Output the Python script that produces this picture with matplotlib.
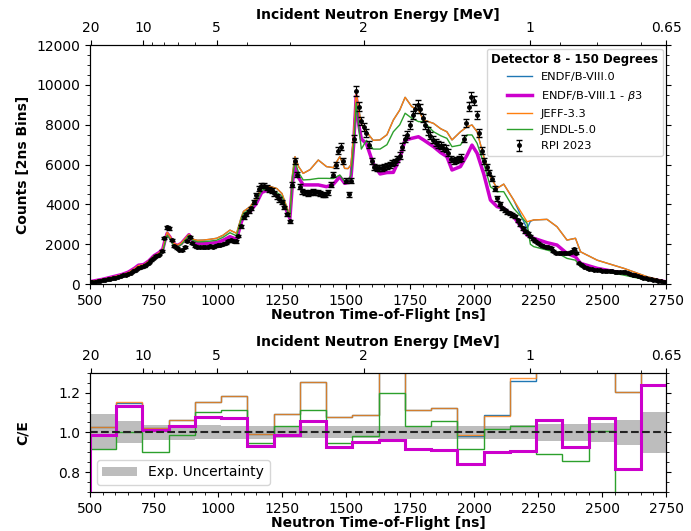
"""
Detector 8 (150 degrees) time-of-flight comparison with C/E ratios.
"""

import matplotlib

matplotlib.use("Agg")

import matplotlib.pyplot as plt
import numpy as np
from matplotlib.patches import Patch
from matplotlib.ticker import AutoMinorLocator

# =============================================================================
# DATA
# =============================================================================

# Model grid [ns]
model_tof = [
    500, 525, 550, 575, 600, 625, 650, 675, 690, 710, 730, 750, 770, 785,
    795, 802, 812, 826, 840, 857, 875, 887, 900, 920, 943, 970, 995, 1020,
    1047, 1073, 1090, 1100, 1125, 1150, 1171, 1190, 1210, 1230, 1250, 1268,
    1281, 1292, 1301, 1315, 1333, 1360, 1392, 1424, 1450, 1476, 1495, 1508,
    1520, 1530, 1540, 1550, 1560, 1580, 1606, 1633, 1660, 1685, 1710, 1731,
    1757, 1783, 1803, 1842, 1870, 1894, 1914, 1947, 1973, 1992, 2012, 2038,
    2064, 2090, 2116, 2155, 2207, 2220, 2233, 2285, 2324, 2363, 2396, 2416,
    2481, 2585, 2676, 2750,
]

jeff33 = [
    130, 180, 240, 310, 390, 470, 580, 780, 930, 960, 1150, 1400, 1560, 1750,
    2300, 2600, 2420, 2080, 1960, 2060, 2320, 2500, 2260, 2200, 2210, 2250,
    2300, 2450, 2710, 2550, 3300, 3650, 3880, 4300, 4850, 4950, 4880, 4800,
    4550, 3900, 3400, 5600, 6400, 5900, 5560, 5750, 6230, 5900, 5850, 6400,
    5810, 5800, 6000, 7500, 9650, 8800, 8040, 7650, 7220, 7240, 7500, 8240,
    8740, 9380, 8910, 8740, 8240, 8070, 7800, 7650, 7240, 7650, 7900, 7990,
    7650, 6400, 5390, 4810, 5020, 4220, 3130, 3180, 3220, 3250, 2880, 2210,
    2300, 1620, 1200, 790, 370, 130,
]

endf80 = [
    130, 180, 240, 310, 390, 470, 580, 780, 930, 960, 1150, 1400, 1560, 1750,
    2300, 2600, 2420, 2080, 1960, 2060, 2320, 2500, 2260, 2200, 2210, 2250,
    2300, 2450, 2710, 2550, 3300, 3650, 3880, 4300, 4850, 4950, 4880, 4800,
    4550, 3900, 3400, 5600, 6400, 5900, 5560, 5750, 6230, 5900, 5850, 6400,
    5810, 5800, 6000, 7500, 9650, 8800, 8040, 7650, 7220, 7240, 7500, 8240,
    8740, 9380, 8910, 8740, 8240, 8070, 7800, 7650, 7240, 7650, 7900, 7990,
    7650, 6400, 5390, 4810, 5020, 4220, 2780, 3150, 3220, 3250, 2880, 2210,
    2300, 1620, 1200, 790, 370, 130,
]

jendl50 = [
    110, 160, 220, 290, 360, 440, 540, 690, 800, 880, 1080, 1320, 1480, 1650,
    2150, 2450, 2280, 1950, 1850, 1980, 2250, 2450, 2200, 2120, 2130, 2160,
    2200, 2350, 2580, 2420, 3200, 3550, 3750, 4150, 4700, 4800, 4750, 4600,
    4400, 3800, 3350, 5400, 6150, 5600, 5230, 5250, 5310, 5310, 5300, 5480,
    5140, 5150, 5500, 7000, 9100, 7900, 6780, 7220, 6780, 6780, 7000, 7650,
    8000, 8580, 8330, 8160, 8160, 7650, 7450, 7320, 6900, 6980, 7490, 7490,
    7070, 6060, 4890, 4640, 4640, 3800, 3050, 2000, 1880, 1710, 1570, 1290,
    1200, 870, 700, 450, 200, 90,
]

endf81_b3 = [
    120, 180, 240, 320, 400, 480, 600, 800, 950, 980, 1160, 1420, 1580, 1760,
    2280, 2550, 2380, 2060, 1930, 2040, 2300, 2480, 2180, 2050, 2040, 2060,
    2080, 2200, 2380, 2250, 3050, 3420, 3630, 4050, 4600, 4700, 4650, 4500,
    4300, 3700, 3300, 5200, 5900, 5350, 4980, 4980, 4980, 4890, 5000, 5390,
    5060, 5100, 5400, 7000, 9450, 8000, 7290, 7050, 6060, 5530, 5600, 5610,
    6315, 7240, 7320, 7400, 7240, 6900, 6600, 6400, 5730, 5900, 6480, 6980,
    6570, 5530, 4220, 3890, 3800, 3380, 2460, 2380, 2300, 2080, 1960, 1540,
    1370, 1040, 790, 540, 285, 110,
]

# RPI 2023 measurement, 10 ns spacing from 500 to 2750 ns
rpi_tof = list(range(500, 2751, 10))

rpi_counts = [
    80, 100, 120, 140, 160, 190, 210, 240, 270, 300,
    330, 360, 400, 440, 480, 520, 580, 640, 720, 800,
    850, 900, 980, 1080, 1200, 1330, 1420, 1480, 1650, 2300,
    2850, 2800, 2200, 1900, 1800, 1730, 1720, 1850, 2150, 2350,
    2050, 1920, 1870, 1860, 1870, 1850, 1880, 1900, 1880, 1920,
    1950, 1960, 2000, 2050, 2150, 2200, 2180, 2140, 2400, 2900,
    3350, 3500, 3650, 3800, 4100, 4450, 4800, 4950, 4950, 4850,
    4750, 4700, 4550, 4400, 4250, 4100, 3850, 3500, 3150, 5000,
    6200, 5500, 4900, 4650, 4600, 4550, 4600, 4650, 4600, 4600,
    4550, 4500, 4480, 4600, 5000, 5500, 6000, 6700, 6900, 6200,
    5200, 4500, 5200, 7300, 9700, 8900, 8200, 7900, 7600, 7000,
    6200, 5900, 5850, 5850, 5850, 5900, 5950, 6000, 6100, 6150,
    6300, 6450, 6900, 7300, 7500, 8000, 8500, 8800, 9000, 8800,
    8350, 8000, 7700, 7450, 7250, 7100, 7000, 6950, 6850, 6800,
    6600, 6300, 6200, 6250, 6300, 6350, 7300, 8100, 8900, 9400,
    9200, 8500, 7600, 6700, 6200, 5900, 5600, 5300, 4800, 4300,
    4000, 3800, 3700, 3600, 3550, 3480, 3400, 3200, 3000, 2800,
    2650, 2550, 2400, 2250, 2150, 2050, 1980, 1920, 1880, 1850,
    1800, 1650, 1550, 1540, 1560, 1550, 1540, 1550, 1600, 1750,
    1550, 1050, 950, 880, 820, 780, 750, 720, 700, 690,
    680, 670, 660, 650, 640, 630, 620, 620, 620, 600,
    560, 520, 480, 440, 400, 360, 320, 300, 270, 250,
    220, 190, 170, 140, 120, 100,
]

rpi_rel_error = 0.025

# C/E bins [ns]
ce_edges = [
    500, 602.5, 705, 807.5, 910, 1012.5, 1115, 1217.5, 1320, 1422.5, 1525,
    1627.5, 1730, 1832.5, 1935, 2037.5, 2140, 2242.5, 2345, 2447.5, 2550,
    2652.5, 2755,
]

ce_endf80 = [
    1.027, 1.148, 1.022, 1.060, 1.151, 1.185, 0.990, 1.094, 1.252, 1.076,
    1.087, 1.350, 1.111, 1.123, 0.980, 1.087, 1.259, 1.350, 1.350, 1.350,
    1.202, 1.350,
]

ce_jeff33 = [
    1.027, 1.151, 1.022, 1.060, 1.151, 1.185, 0.990, 1.094, 1.252, 1.076,
    1.087, 1.350, 1.111, 1.121, 0.985, 1.084, 1.272, 1.350, 1.350, 1.350,
    1.202, 1.350,
]

ce_jendl50 = [
    0.916, 1.000, 0.899, 0.988, 1.100, 1.114, 0.946, 1.030, 1.111, 0.946,
    0.983, 1.198, 1.034, 1.055, 0.916, 1.017, 1.030, 0.892, 0.855, 1.005,
    0.500, 0.500,
]

ce_endf81_b3 = [
    0.988, 1.134, 1.013, 1.030, 1.076, 1.072, 0.929, 0.988, 1.055, 0.924,
    0.950, 0.963, 0.916, 0.913, 0.840, 0.899, 0.906, 1.064, 0.924, 1.074,
    0.815, 1.240,
]

ce_uncertainty = [
    0.090, 0.055, 0.038, 0.038, 0.035, 0.033, 0.032, 0.030, 0.030, 0.030,
    0.030, 0.032, 0.032, 0.033, 0.033, 0.033, 0.035, 0.042, 0.043, 0.048,
    0.063, 0.105,
]

energy_major = [20, 10, 5, 2, 1, 0.65]
energy_labels = ["20", "10", "5", "2", "1", "0.65"]
energy_minor = [9, 8, 7, 6, 4, 3, 0.9, 0.8, 0.7]

# =============================================================================
# HELPERS
# =============================================================================

FLIGHT_PATH = 30.67  # m
NEUTRON_MASS = 939.565  # MeV
LIGHT_SPEED = 0.299792458  # m/ns


def energy_to_tof(energy):
    """
    Relativistic time-of-flight [ns] for a neutron energy [MeV].
    """

    gamma = 1.0 + np.asarray(energy, dtype=float) / NEUTRON_MASS
    beta = np.sqrt(1.0 - 1.0 / gamma**2)

    return FLIGHT_PATH / (beta * LIGHT_SPEED)


def add_energy_axis(axis):
    """
    Put the incident neutron energy scale on top of an axis.
    """

    top = axis.twiny()
    top.set_xlim(axis.get_xlim())
    top.set_xticks(energy_to_tof(energy_major))
    top.set_xticklabels(energy_labels, fontsize=10)
    top.set_xticks(energy_to_tof(energy_minor), minor=True)
    top.set_xlabel(
        "Incident Neutron Energy [MeV]",
        fontsize=10,
        fontweight="bold",
        labelpad=2,
    )

    return top


def style_axis(axis):
    """
    Common tick styling.
    """

    axis.xaxis.set_minor_locator(AutoMinorLocator())
    axis.yaxis.set_minor_locator(AutoMinorLocator())
    axis.tick_params(which="both", right=True, top=False, labelsize=10)
    axis.yaxis.set_label_coords(-0.104, 0.5)


# =============================================================================
# FIGURE
# =============================================================================

figure = plt.figure(figsize=(6.91, 5.31), dpi=100)

main = figure.add_axes([0.130, 0.465, 0.834, 0.450])
ratio = figure.add_axes([0.130, 0.0735, 0.834, 0.2245])

# ---- counts ----------------------------------------------------------------

main.plot(model_tof, endf80, color="#1f77b4", lw=1.0, label="ENDF/B-VIII.0")
main.plot(
    model_tof,
    endf81_b3,
    color="#cc00cc",
    lw=2.5,
    label=r"ENDF/B-VIII.1 - $\beta$3",
)
main.plot(model_tof, jeff33, color="#ff7f0e", lw=1.0, label="JEFF-3.3")
main.plot(model_tof, jendl50, color="#2ca02c", lw=1.0, label="JENDL-5.0")

rpi_counts_arr = np.asarray(rpi_counts, dtype=float)
main.errorbar(
    rpi_tof,
    rpi_counts_arr,
    yerr=rpi_rel_error * rpi_counts_arr,
    fmt=".",
    color="black",
    ms=5,
    elinewidth=0.8,
    capsize=2,
    label="RPI 2023",
    zorder=5,
)

main.set_xlim(500, 2750)
main.set_ylim(0, 12000)
main.set_xticks(np.arange(500, 2751, 250))
main.set_xlabel(
    "Neutron Time-of-Flight [ns]", fontsize=10, fontweight="bold", labelpad=0
)
main.set_ylabel("Counts [2ns Bins]", fontsize=10, fontweight="bold")
style_axis(main)

legend = main.legend(
    loc="upper right",
    fontsize=8.2,
    title="Detector 8 - 150 Degrees",
    title_fontproperties={"weight": "bold", "size": 8.5},
    handlelength=2.2,
    labelspacing=0.55,
    borderaxespad=0.3,
)

add_energy_axis(main)

# ---- C/E -------------------------------------------------------------------

unc = np.asarray(ce_uncertainty)
ratio.stairs(
    1.0 + unc,
    ce_edges,
    baseline=1.0 - unc,
    fill=True,
    color="#bdbdbd",
    lw=0,
    zorder=1,
)

ratio.stairs(ce_endf80, ce_edges, color="#1f77b4", lw=1.0, zorder=2)
ratio.stairs(ce_jeff33, ce_edges, color="#ff7f0e", lw=1.0, alpha=0.8, zorder=3)
ratio.stairs(ce_jendl50, ce_edges, color="#2ca02c", lw=1.0, zorder=3)
ratio.stairs(ce_endf81_b3, ce_edges, color="#cc00cc", lw=2.2, zorder=4)
ratio.axhline(1.0, color="#222222", ls="--", lw=1.5, zorder=5)

ratio.set_xlim(500, 2750)
ratio.set_ylim(0.7, 1.3)
ratio.set_xticks(np.arange(500, 2751, 250))
ratio.set_yticks([0.8, 1.0, 1.2])
ratio.set_xlabel(
    "Neutron Time-of-Flight [ns]", fontsize=10, fontweight="bold", labelpad=0
)
ratio.set_ylabel("C/E", fontsize=10, fontweight="bold")
style_axis(ratio)

ratio.legend(
    handles=[Patch(facecolor="#bdbdbd", edgecolor="none", label="Exp. Uncertainty")],
    loc="lower left",
    fontsize=10,
    handlelength=2.5,
)

add_energy_axis(ratio)

figure.savefig("out.png", dpi=100)
